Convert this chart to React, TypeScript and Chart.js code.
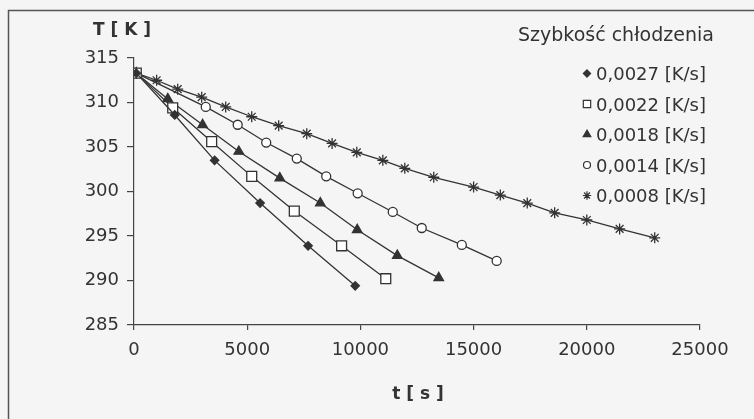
import React, { useEffect, useRef } from 'react';
import { Chart, registerables } from 'chart.js';
import { drawPoint } from 'chart.js/helpers';

Chart.register(...registerables);

const FONT = '"DejaVu Sans", sans-serif';
const INK = '#333333';

// Axis ticks
const xTicks = [0, 5000, 10000, 15000, 20000, 25000];
const yTicks = [285, 290, 295, 300, 305, 310, 315];

const legendTitle = 'Szybkość chłodzenia';
const seriesLabels = ['0,0027 [K/s]', '0,0022 [K/s]', '0,0018 [K/s]', '0,0014 [K/s]', '0,0008 [K/s]'];

// Series: time [s] and temperature [K]
const t0027 = [100, 1800, 3560, 5570, 7690, 9770];
const T0027 = [313.3, 308.6, 303.5, 298.7, 293.9, 289.4];

const t0022 = [100, 1710, 3430, 5200, 7080, 9170, 11120];
const T0022 = [313.3, 309.4, 305.6, 301.7, 297.8, 293.9, 290.2];

const t0018 = [100, 1490, 3030, 4630, 6440, 8230, 9860, 11630, 13460];
const T0018 = [313.3, 310.4, 307.5, 304.5, 301.5, 298.7, 295.7, 292.8, 290.3];

const t0014 = [100, 3170, 4580, 5840, 7190, 8490, 9880, 11430, 12710, 14480, 16020];
const T0014 = [313.3, 309.5, 307.5, 305.5, 303.7, 301.7, 299.8, 297.7, 295.9, 294.0, 292.2];

const t0008 = [100, 1000, 1930, 2990, 4050, 5200, 6390, 7630, 8750, 9840, 10990, 11960, 13240, 15000, 16180, 17370, 18580, 20000, 21450, 23000];
const T0008 = [313.3, 312.5, 311.5, 310.6, 309.5, 308.4, 307.4, 306.5, 305.4, 304.4, 303.5, 302.6, 301.6, 300.5, 299.6, 298.7, 297.6, 296.8, 295.8, 294.8];

const seriesTimes = [t0027, t0022, t0018, t0014, t0008];
const seriesTemps = [T0027, T0022, T0018, T0014, T0008];

const markerStyles = [
  { pointStyle: 'rectRot', radius: 4.2, fill: INK, legendRadius: 3.6 },
  { pointStyle: 'rect', radius: 7, fill: '#ffffff', legendRadius: 5.2 },
  { pointStyle: 'triangle', radius: 5.5, fill: INK, legendRadius: 4.4 },
  { pointStyle: 'circle', radius: 4.5, fill: '#ffffff', legendRadius: 3.5 },
  { pointStyle: 'star', radius: 5.5, fill: INK, legendRadius: 4.2 },
];

const decorPlugin = {
  id: 'decor',
  afterDraw(chart: any) {
    const ctx = chart.ctx as CanvasRenderingContext2D;
    ctx.save();
    // outer frame (top + left)
    ctx.strokeStyle = '#555555';
    ctx.lineWidth = 1.5;
    ctx.beginPath();
    ctx.moveTo(8.5, 419);
    ctx.lineTo(8.5, 10.5);
    ctx.lineTo(754, 10.5);
    ctx.stroke();

    // axis titles
    ctx.fillStyle = INK;
    ctx.font = `bold 17px ${FONT}`;
    ctx.textAlign = 'center';
    ctx.textBaseline = 'middle';
    ctx.fillText('T [ K ]', 122, 31);
    ctx.fillText('t [ s ]', 418, 395);

    // legend
    ctx.textAlign = 'left';
    ctx.textBaseline = 'alphabetic';
    ctx.font = `19px ${FONT}`;
    ctx.fillText(legendTitle, 518, 41);
    ctx.font = `18px ${FONT}`;
    seriesLabels.forEach((label, i) => {
      const base = 80 + i * 30.5;
      const m = markerStyles[i];
      ctx.fillStyle = m.fill;
      ctx.strokeStyle = INK;
      ctx.lineWidth = 1.2;
      drawPoint(ctx, { pointStyle: m.pointStyle as any, radius: m.legendRadius, rotation: 0, borderWidth: 1.2 } as any, 587, base - 6.5);
      ctx.fillStyle = INK;
      ctx.fillText(label, 596, base);
    });
    ctx.restore();
  },
};

export default function App() {
  const ref = useRef<HTMLCanvasElement | null>(null);

  useEffect(() => {
    if (!ref.current) return;
    const datasets = seriesLabels.map((label, i) => ({
      label,
      data: seriesTimes[i].map((t, k) => ({ x: t, y: seriesTemps[i][k] })),
      borderColor: INK,
      borderWidth: 1.3,
      backgroundColor: markerStyles[i].fill,
      pointStyle: markerStyles[i].pointStyle as any,
      pointRadius: markerStyles[i].radius,
      pointBorderColor: INK,
      pointBackgroundColor: markerStyles[i].fill,
      pointBorderWidth: 1.3,
      tension: 0,
      fill: false,
      showLine: true,
    }));

    const chart = new Chart(ref.current, {
      type: 'scatter',
      data: { datasets },
      options: {
        responsive: false,
        animation: false,
        devicePixelRatio: 1,
        layout: { padding: { top: 58, right: 54, left: 0, bottom: 0 } },
        plugins: { legend: { display: false }, tooltip: { enabled: false } },
        scales: {
          x: {
            type: 'linear',
            min: xTicks[0],
            max: xTicks[xTicks.length - 1],
            afterFit: (s: any) => { s.height = 94; },
            afterBuildTicks: (s: any) => { s.ticks = xTicks.map((v) => ({ value: v })); },
            ticks: {
              color: INK,
              font: { family: FONT, size: 18 },
              padding: 10,
              maxRotation: 0,
              callback: (v: any) => String(v),
            },
            grid: { drawOnChartArea: false, drawTicks: true, tickLength: 5, color: '#444444', lineWidth: 1.2 },
            border: { display: true, color: '#444444', width: 1.2 },
          },
          y: {
            type: 'linear',
            min: yTicks[0],
            max: yTicks[yTicks.length - 1],
            afterFit: (s: any) => { s.width = 134; },
            afterBuildTicks: (s: any) => { s.ticks = yTicks.map((v) => ({ value: v })); },
            ticks: {
              color: INK,
              font: { family: FONT, size: 18 },
              padding: 8,
              callback: (v: any) => String(v),
            },
            grid: { drawOnChartArea: false, drawTicks: true, tickLength: 7, color: '#444444', lineWidth: 1.2 },
            border: { display: true, color: '#444444', width: 1.2 },
          },
        },
      },
      plugins: [decorPlugin],
    });
    return () => chart.destroy();
  }, []);

  return (
    <div style={{ position: 'fixed', left: 0, top: 0, width: 754, height: 419, background: '#f5f5f5' }}>
      <canvas ref={ref} width={754} height={419} style={{ width: 754, height: 419, display: 'block' }} />
    </div>
  );
}
